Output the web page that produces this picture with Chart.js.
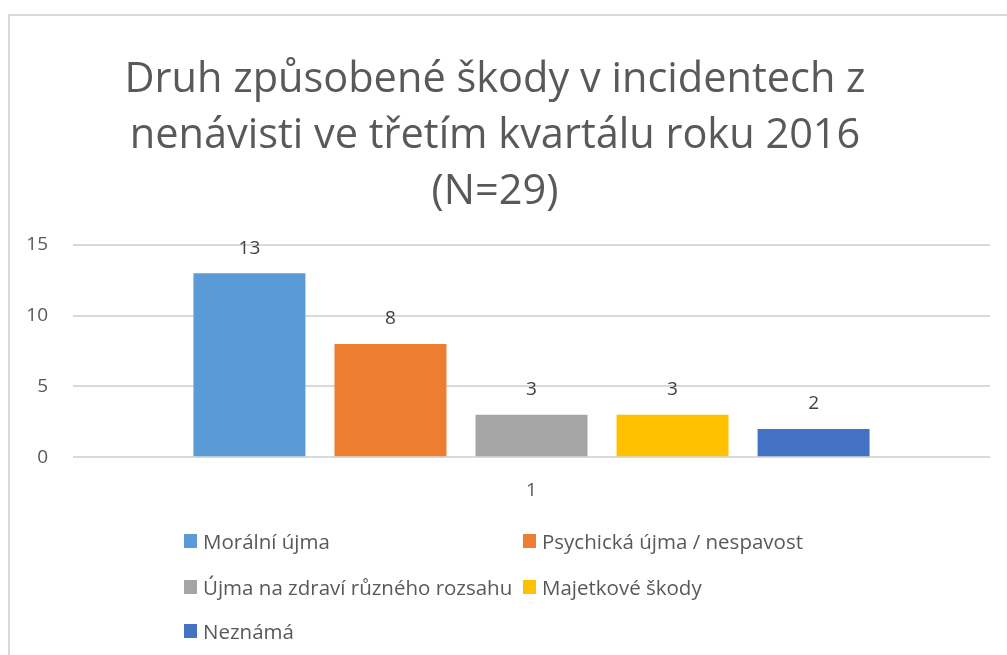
<!DOCTYPE html>
<html>
<head>
<meta charset="utf-8">
<script src="https://cdn.jsdelivr.net/npm/chart.js@4"></script>
<style>
  html, body { margin: 0; padding: 0; background: #fff; overflow: hidden; }
  #frame { position: absolute; left: 8px; top: 14px; width: 1100px; height: 800px;
           border-top: 2px solid #d9d9d9; border-left: 2px solid #d9d9d9; }
  #wrap { position: absolute; left: 0; top: 0; width: 1007px; height: 655px; }
  #legend { position: absolute; left: 0; top: 0; width: 1007px; height: 655px; pointer-events: none;
            font-family: 'Open Sans', sans-serif; font-size: 20.5px; color: #595959; }
  .item { position: absolute; height: 24px; line-height: 24px; white-space: nowrap; transform: translateY(-50%); }
  .item span.box { position: absolute; left: 0; top: 5px; width: 13px; height: 14px; }
  .item span.txt { position: absolute; left: 19px; top: 0; }
</style>
</head>
<body>
<div id="frame"></div>
<div id="wrap"><canvas id="chart" width="1007" height="655"></canvas></div>
<div id="legend"></div>
<script>
// chart data
const titleLines = ['Druh způsobené škody v incidentech z', 'nenávisti ve třetím kvartálu roku 2016', '(N=29)'];
const categories = ['1'];
const seriesNames = ['Morální újma', 'Psychická újma / nespavost', 'Újma na zdraví různého rozsahu', 'Majetkové škody', 'Neznámá'];
const seriesValues = [13, 8, 3, 3, 2];
const seriesColors = ['#5B9BD5', '#ED7D31', '#A5A5A5', '#FFC000', '#4472C4'];
const yMin = 0, yMax = 15, yStep = 5;

const FONT = "'Open Sans', sans-serif";
const TEXT_GREY = '#595959';

// value labels above each bar
const barValueLabels = {
  id: 'barValueLabels',
  afterDatasetsDraw(chart) {
    const ctx = chart.ctx;
    ctx.save();
    ctx.font = '19px ' + FONT;
    ctx.fillStyle = '#404040';
    ctx.textAlign = 'center';
    ctx.textBaseline = 'middle';
    chart.data.datasets.forEach((ds, i) => {
      chart.getDatasetMeta(i).data.forEach((bar, j) => {
        ctx.fillText(String(ds.data[j]), bar.x, bar.y - 25);
      });
    });
    ctx.restore();
  }
};

new Chart(document.getElementById('chart'), {
  type: 'bar',
  data: {
    labels: categories,
    datasets: seriesNames.map((name, i) => ({
      label: name,
      data: [seriesValues[i]],
      backgroundColor: seriesColors[i],
      borderWidth: 0,
      categoryPercentage: 0.769,
      barPercentage: 0.794
    }))
  },
  options: {
    responsive: false,
    animation: false,
    layout: { padding: { left: 0, right: 17, top: 0, bottom: 131 } },
    scales: {
      x: {
        grid: { display: false, drawTicks: false },
        border: { display: false },
        ticks: { color: TEXT_GREY, font: { family: FONT, size: 19 }, padding: 22 }
      },
      y: {
        min: yMin,
        max: yMax,
        afterFit: scale => { scale.width = 73; },
        grid: { color: '#d9d9d9', lineWidth: 2, drawTicks: false },
        border: { display: false },
        ticks: { stepSize: yStep, color: TEXT_GREY, font: { family: FONT, size: 19 }, padding: 25 }
      }
    },
    plugins: {
      legend: { display: false },
      tooltip: { enabled: false },
      title: {
        display: true,
        text: titleLines,
        color: TEXT_GREY,
        font: { family: FONT, size: 41.5, weight: 'normal', lineHeight: 1.35 },
        padding: { top: 52, bottom: 25 }
      }
    }
  },
  plugins: [barValueLabels]
});

// legend in two columns, like the original
const legendCols = [184, 523];
const legendRows = [541, 587, 631];
const legendEl = document.getElementById('legend');
seriesNames.forEach((name, i) => {
  const item = document.createElement('div');
  item.className = 'item';
  item.style.left = legendCols[i % 2] + 'px';
  item.style.top = legendRows[Math.floor(i / 2)] + 'px';
  item.innerHTML = '<span class="box" style="background:' + seriesColors[i] + '"></span><span class="txt"></span>';
  item.querySelector('.txt').textContent = name;
  legendEl.appendChild(item);
});
</script>
</body>
</html>
